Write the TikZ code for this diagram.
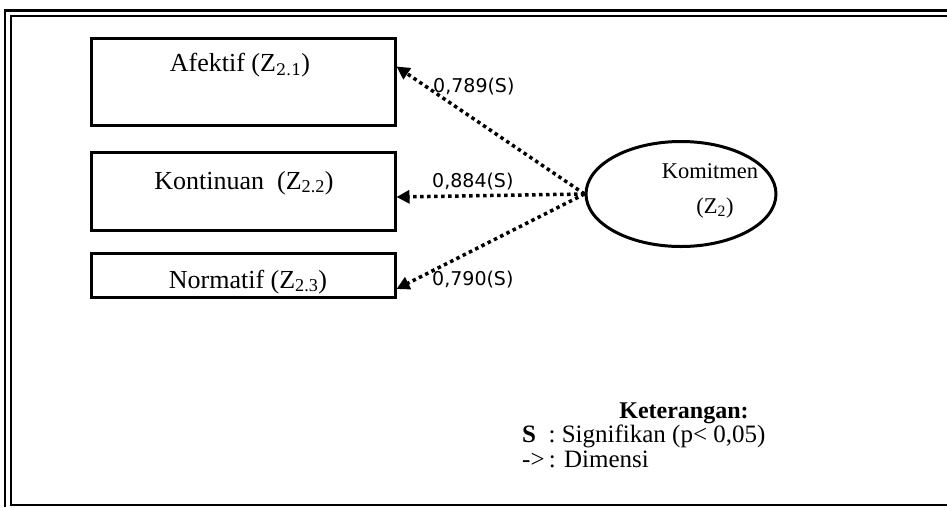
\documentclass[tikz,border=0pt]{standalone}
\usepackage{fontspec}
\setmainfont{Liberation Serif}
\newfontfamily\lblfont{DejaVu Sans}
\newfontfamily\subserif{DejaVu Serif}
\usetikzlibrary{arrows.meta,shapes.geometric}
\begin{document}
\begin{tikzpicture}[x=1pt,y=-1pt,
  frameline/.style={line width=2.4pt,black},
  dimbox/.style={draw,line width=3pt,rectangle,inner sep=0pt},
  boxtext/.style={font=\fontsize{26}{29}\selectfont,inner sep=0pt,anchor=base},
  ovaltext/.style={font=\fontsize{22.5}{26}\selectfont,inner sep=0pt,anchor=base},
  loadline/.style={line width=3.5pt,dash pattern=on 3.5pt off 3.5pt,-{Triangle[length=13pt,width=13pt]}},
  loadlbl/.style={font=\lblfont\fontsize{19}{21}\selectfont,inner sep=0pt,anchor=base west},
  legtext/.style={font=\fontsize{25}{28}\selectfont,inner sep=0pt,anchor=base west}]
\useasboundingbox (0,0) rectangle (947,507);
% frame
\draw[frameline] (5,507) -- (5,10.5) -- (947,10.5);
\draw[frameline] (947,505) -- (11,505) -- (11,16) -- (947,16);
% boxes
\node[dimbox,minimum width=304pt,minimum height=87pt] (b1) at (243,81.5) {};
\node[dimbox,minimum width=304pt,minimum height=78pt] (b2) at (243,191) {};
\node[dimbox,minimum width=304pt,minimum height=44pt] (b3) at (243,275) {};
\node[boxtext] (t1) at (240,71) {Afektif (Z\raisebox{-4pt}{\subserif\fontsize{16}{16}\selectfont 2.1})};
\node[boxtext] (t2) at (244,189) {Kontinuan\ \ (Z\textsubscript{2.2})};
\node[boxtext] (t3) at (248,288) {Normatif (Z\textsubscript{2.3})};
% ellipse
\node[draw,ellipse,line width=3pt,minimum width=190pt,minimum height=105pt,inner sep=0pt] (k) at (681,194) {};
\node[ovaltext] (kt1) at (710,178) {Komitmen};
\node[ovaltext] (kt2) at (715,213) {(Z\textsubscript{2})};
% arrow targets on the box edges
\coordinate (e1) at ([yshift=15pt]b1.east);
\coordinate (e2) at ([yshift=-6pt]b2.east);
\coordinate (e3) at ([yshift=-14pt]b3.east);
\draw[loadline] (k.west) -- (e1);
\draw[loadline] (k.west) -- (e2);
\draw[loadline] (k.west) -- (e3);
\node[loadlbl] (l1) at (433,92) {0,789(S)};
\node[loadlbl] (l2) at (432,187) {0,884(S)};
\node[loadlbl] (l3) at (432,285) {0,790(S)};
% legend
\node[legtext,anchor=base,font=\fontsize{24}{27}\selectfont\bfseries] (lg) at (684,418) {Keterangan:};
\node[legtext] (lg1) at (522,442) {\textbf{S}\ \ : Signifikan (p< 0,05)};
\node[legtext] (lg2) at (522,467) {->\,: Dimensi};
\end{tikzpicture}
\end{document}
